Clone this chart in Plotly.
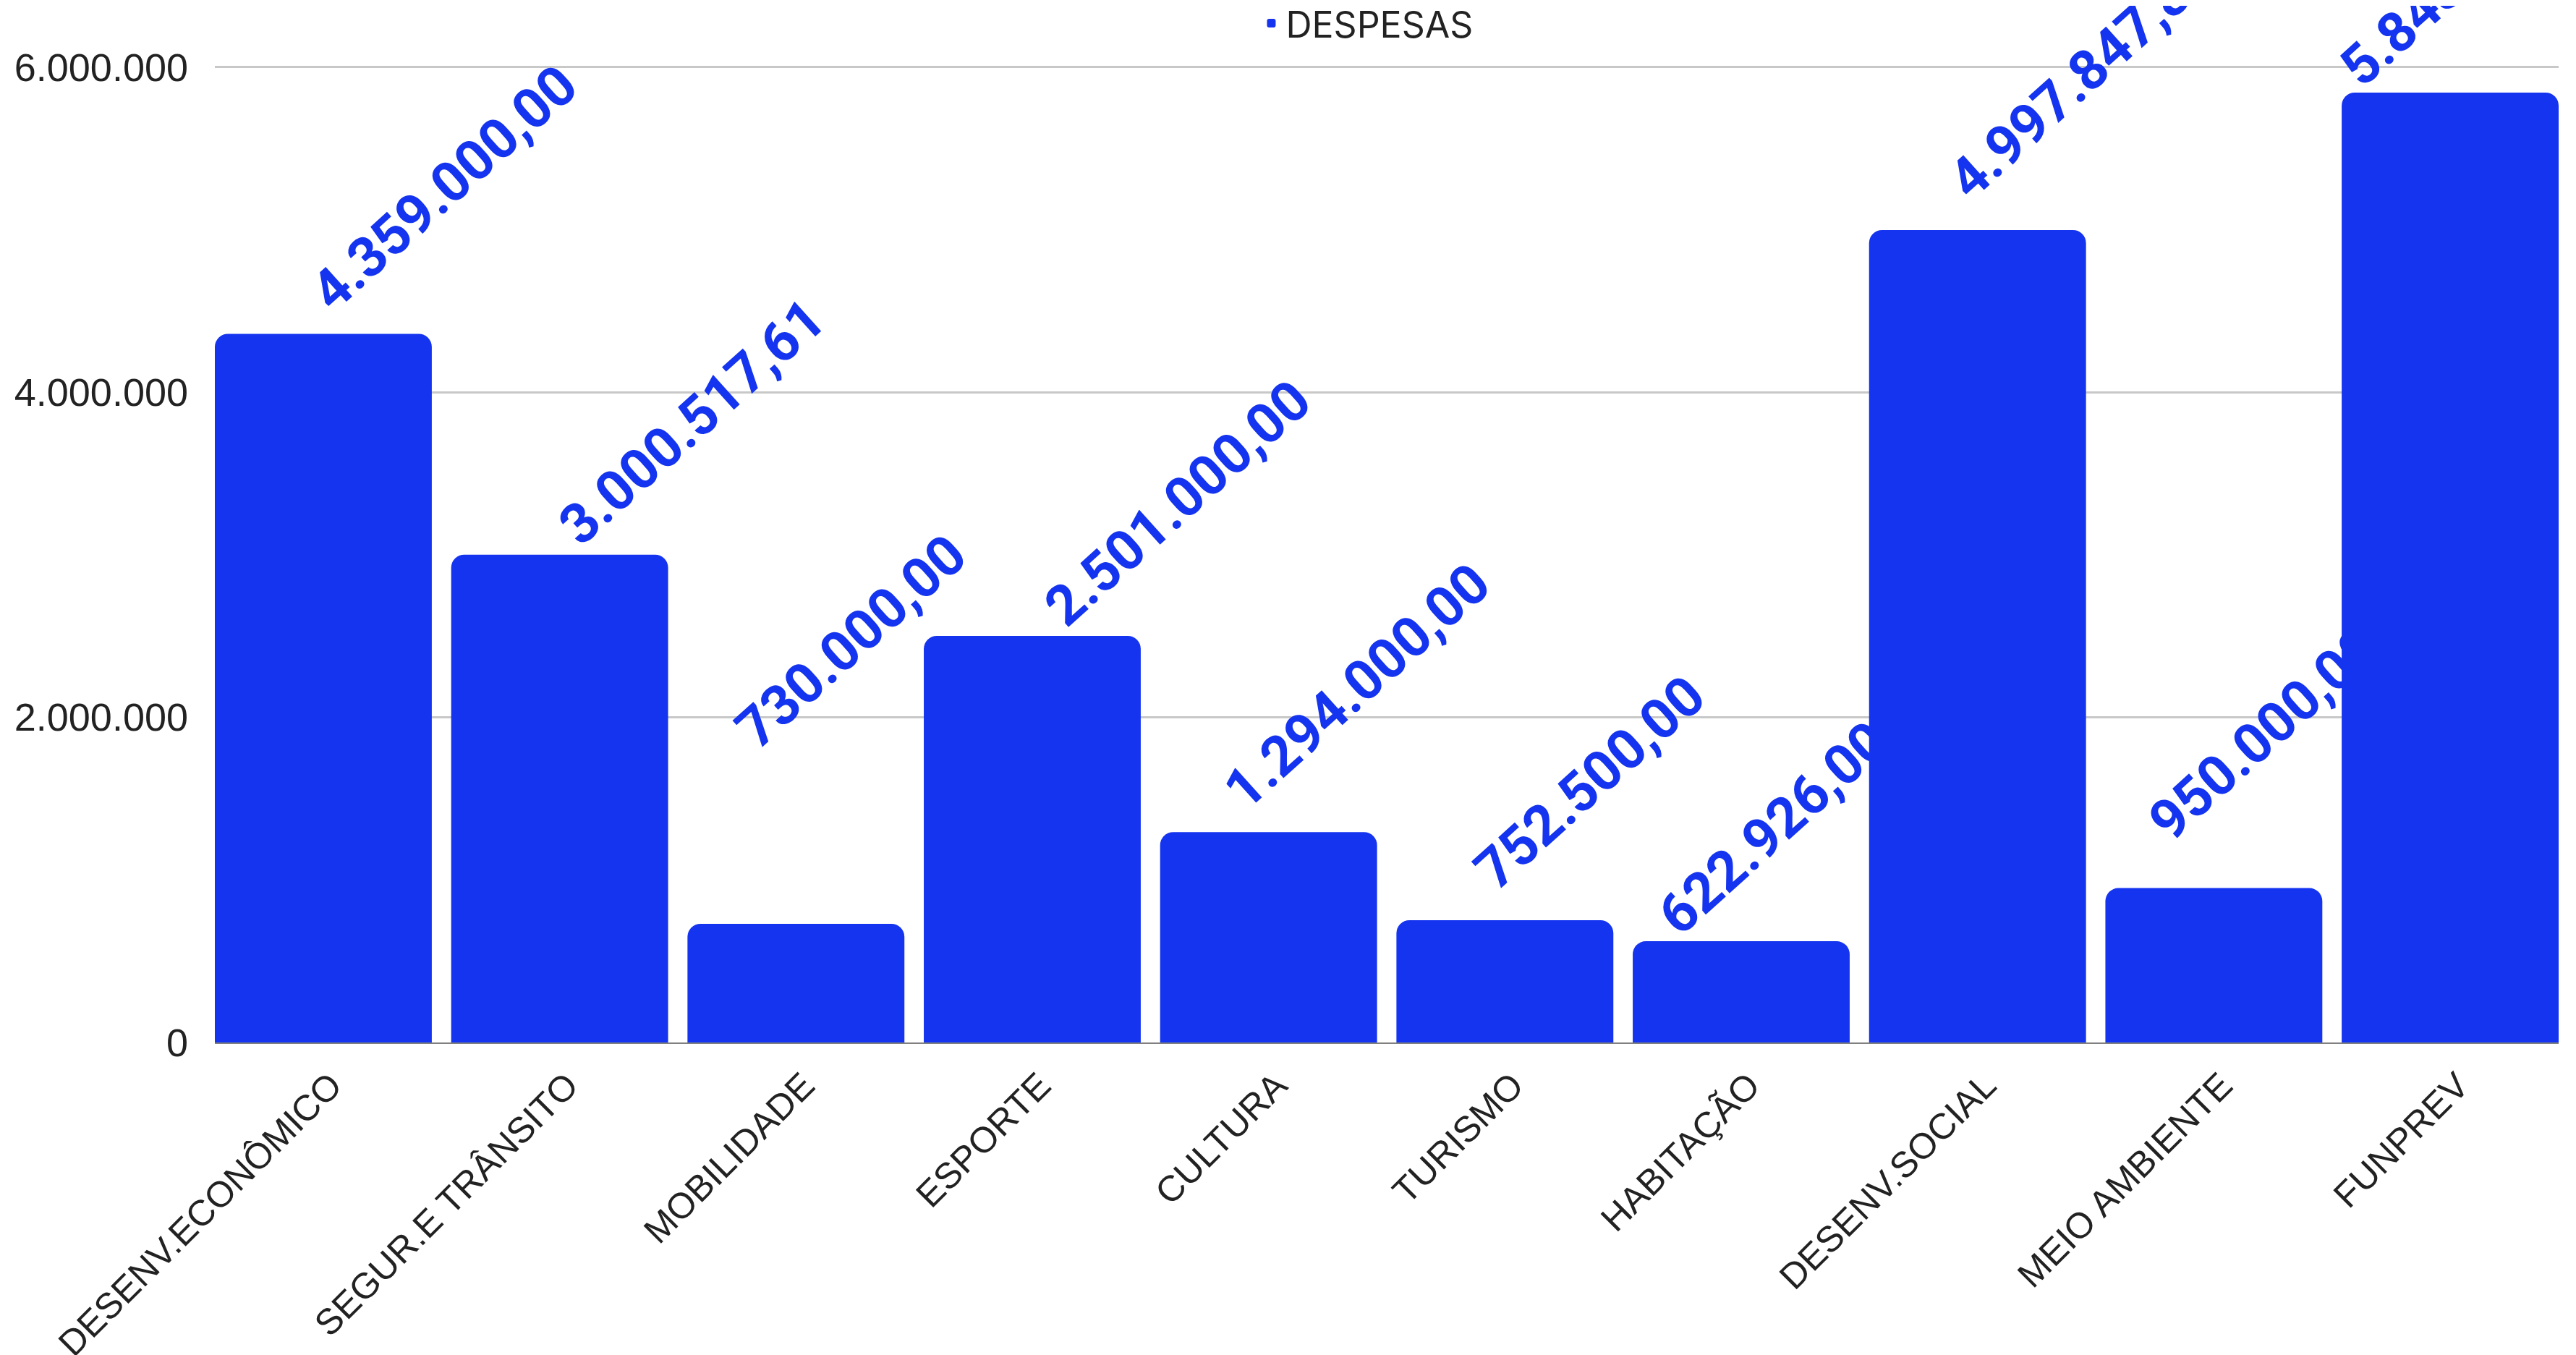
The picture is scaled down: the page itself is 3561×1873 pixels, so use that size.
import math
import plotly.graph_objects as go

# data
categories = ['DESENV.ECONÔMICO', 'SEGUR.E TRÂNSITO', 'MOBILIDADE', 'ESPORTE', 'CULTURA',
              'TURISMO', 'HABITAÇÃO', 'DESENV.SOCIAL', 'MEIO AMBIENTE', 'FUNPREV']
despesas = [4359000.00, 3000517.61, 730000.00, 2501000.00, 1294000.00,
            752500.00, 622926.00, 4997847.80, 950000.00, 5843000.00]
y_ticks = [0, 2000000, 4000000, 6000000]
y_tick_labels = ['0', '2.000.000', '4.000.000', '6.000.000']

BLUE = '#1434ef'


def brl(v):
    # 1234567.8 -> 1.234.567,80
    s = f'{v:,.2f}'
    return s.replace(',', '_').replace('.', ',').replace('_', '.')


labels = [brl(v) for v in despesas]

# the page body has an 8px margin, so the figure is 8px smaller than the window
W, H = 3553, 1865
ML, MR, MT, MB = 289, 24, 0, 432
bargap = 0.082
half = (1 - bargap) / 2
px_per_unit = 224.72e-6            # 6.000.000 spans ~1348 px
plot_h = H - MT - MB
y_top = plot_h / px_per_unit
px_per_cat = (W - ML - MR) / (len(categories) - 1 + 2 * half)

# per-label nudges (px) where the original chart moved a label
label_shift = {
    'SEGUR.E TRÂNSITO': (16, -18),
    'MOBILIDADE': (-66, 211),
    'ESPORTE': (34, -18),
    'CULTURA': (-45, 0),
    'TURISMO': (-25, 11),
    'HABITAÇÃO': (-98, -23),
    'DESENV.SOCIAL': (-23, 11),
    'MEIO AMBIENTE': (-73, 34),
    'FUNPREV': (-135, -23),
}

fig = go.Figure()
fig.add_trace(go.Bar(
    x=categories, y=despesas, name='DESPESAS',
    marker=dict(color=BLUE, cornerradius=18, line=dict(width=0)),
    showlegend=True,
))

# rotated value labels, drawn under the bars (so later bars can cover them)
ang = math.radians(42)
for i, (cat, val, lab) in enumerate(zip(categories, despesas, labels)):
    sx, sy = label_shift.get(cat, (0, 0))
    x0 = i + (22 + sx) / px_per_cat
    y0 = val + (18 + sy) / px_per_unit
    fig.add_shape(
        type='line', xref='x', yref='y',
        x0=x0, y0=y0,
        x1=x0 + 100 * math.cos(ang) / px_per_cat, y1=y0 + 100 * math.sin(ang) / px_per_unit,
        line=dict(width=0, color='rgba(0,0,0,0)'), layer='between',
        label=dict(text=lab, textposition='start', padding=0,
                   font=dict(family='Roboto', size=77, color=BLUE, weight='bold')),
    )

fig.update_layout(
    width=W, height=H,
    margin=dict(l=ML, r=MR, t=MT, b=MB, pad=0, autoexpand=False),
    plot_bgcolor='white', paper_bgcolor='white',
    bargap=bargap,
    showlegend=True,
    legend=dict(x=0.4915, xanchor='center', y=1 + (MT - 24) / plot_h, yanchor='middle',
                orientation='h', bgcolor='rgba(0,0,0,0)',
                font=dict(family='Inter', size=50, color='#222222')),
    xaxis=dict(type='category', range=[-half, len(categories) - 1 + half], automargin=False,
               tickangle=-45, tickfont=dict(family='Liberation Sans', size=50, color='#222222'),
               showgrid=False, showline=True, linecolor='#808080', linewidth=2,
               ticks='', ticklabelstandoff=8, ticklabelshift=11),
    yaxis=dict(range=[0, y_top], tickvals=y_ticks, ticktext=y_tick_labels, automargin=False,
               tickfont=dict(family='Liberation Sans', size=54, color='#222222'),
               showgrid=True, gridcolor='#c8c8c8', gridwidth=2.5,
               zeroline=False, ticks='', ticklabelstandoff=36),
)

fig.write_html('out.html')
